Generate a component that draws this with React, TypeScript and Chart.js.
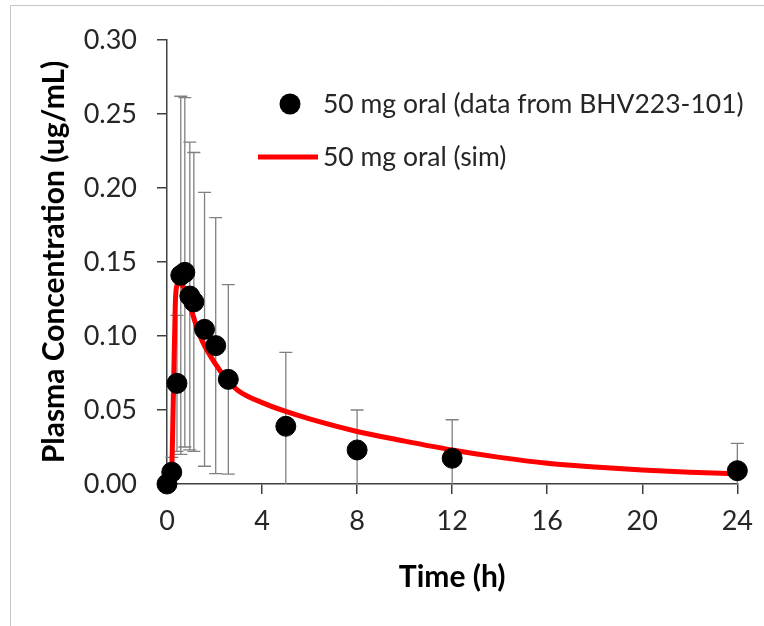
import React, { useEffect, useRef } from "react";
import { Chart, registerables } from "chart.js";

Chart.register(...registerables);

// Observed data (mean ± SD)
const obsTime = [0, 0.2, 0.42, 0.58, 0.75, 0.96, 1.13, 1.58, 2.05, 2.58, 5, 8, 12, 24];
const obsMean = [0, 0.008, 0.068, 0.141, 0.143, 0.127, 0.123, 0.1045, 0.0935, 0.0707, 0.039, 0.023, 0.0174, 0.009];
const obsSD = [0, 0.01, 0.046, 0.121, 0.118, 0.104, 0.101, 0.0925, 0.0865, 0.064, 0.05, 0.027, 0.026, 0.0185];

// Simulated profile
const simTime = [0, 0.1, 0.15, 0.2, 0.25, 0.3, 0.35, 0.4, 0.5, 0.6, 0.75, 1, 1.25, 1.5, 2, 2.5, 3, 4, 5, 6, 8, 10, 12, 14, 16, 18, 20, 22, 24];
const simConc = [0, 0.0005, 0.003, 0.009, 0.045, 0.085, 0.122, 0.133, 0.136, 0.135, 0.131, 0.119, 0.106, 0.096, 0.082, 0.071, 0.063, 0.055, 0.049, 0.044, 0.0355, 0.029, 0.023, 0.018, 0.014, 0.0115, 0.0095, 0.008, 0.0068];

const xTicks = [0, 4, 8, 12, 16, 20, 24];
const yTicks = [0, 0.05, 0.1, 0.15, 0.2, 0.25, 0.3];

const obsLabel = "50 mg oral (data from BHV223-101)";
const simLabel = "50 mg oral (sim)";
const xTitle = "Time (h)";
const yTitle = "Plasma Concentration (ug/mL)";

const FONT = "Lato, 'Open Sans', sans-serif";
const TEXT = "#262626";

const framePlugin = {
  id: "frame",
  beforeDraw(chart: any) {
    const ctx = chart.ctx;
    ctx.save();
    ctx.strokeStyle = "#c6c6c6";
    ctx.lineWidth = 1;
    ctx.beginPath();
    ctx.moveTo(10.5, chart.height);
    ctx.lineTo(10.5, 5.5);
    ctx.lineTo(chart.width, 5.5);
    ctx.stroke();
    ctx.restore();
  },
};

const errorBarPlugin = {
  id: "errorBars",
  beforeDatasetsDraw(chart: any) {
    const ctx = chart.ctx;
    const xs = chart.scales.x;
    const ys = chart.scales.y;
    const cap = 6.5;
    ctx.save();
    ctx.strokeStyle = "#808080";
    ctx.lineWidth = 1.3;
    for (let i = 0; i < obsTime.length; i++) {
      if (!obsSD[i]) continue;
      const x = xs.getPixelForValue(obsTime[i]);
      const hi = obsMean[i] + obsSD[i];
      const loV = obsMean[i] - obsSD[i];
      const lo = Math.max(loV, 0);
      const yT = ys.getPixelForValue(hi);
      const yB = ys.getPixelForValue(lo);
      ctx.beginPath();
      ctx.moveTo(x, yT);
      ctx.lineTo(x, yB);
      ctx.moveTo(x - cap, yT);
      ctx.lineTo(x + cap, yT);
      if (loV > 0) {
        ctx.moveTo(x - cap, yB);
        ctx.lineTo(x + cap, yB);
      }
      ctx.stroke();
    }
    ctx.restore();
  },
};

const legendPlugin = {
  id: "customLegend",
  afterDraw(chart: any) {
    const ctx = chart.ctx;
    const ds = chart.data.datasets;
    ctx.save();
    ctx.font = `26.5px ${FONT}`;
    ctx.textBaseline = "middle";
    ctx.textAlign = "left";
    // item 1: marker
    ctx.beginPath();
    ctx.fillStyle = "#000";
    ctx.arc(290, 104, 10.5, 0, Math.PI * 2);
    ctx.fill();
    ctx.fillStyle = TEXT;
    ctx.fillText(ds[0].label, 323, 104);
    // item 2: line
    ctx.strokeStyle = "#ff0000";
    ctx.lineWidth = 5;
    ctx.beginPath();
    ctx.moveTo(258, 157);
    ctx.lineTo(318, 157);
    ctx.stroke();
    ctx.fillText(ds[1].label, 323, 157);
    ctx.restore();
  },
};

export default function App() {
  const ref = useRef<HTMLCanvasElement | null>(null);
  useEffect(() => {
    document.body.style.margin = "0";
    const canvas = ref.current;
    if (!canvas) return;
    const chart = new Chart(canvas, {
      type: "scatter",
      data: {
        datasets: [
          {
            label: obsLabel,
            data: obsTime.map((t, i) => ({ x: t, y: obsMean[i] })),
            backgroundColor: "#000",
            borderColor: "#000",
            pointRadius: 10,
            pointHoverRadius: 10,
            showLine: false,
            clip: false as any,
            order: 0,
          },
          {
            label: simLabel,
            type: "line" as any,
            data: simTime.map((t, i) => ({ x: t, y: simConc[i] })),
            borderColor: "#ff0000",
            backgroundColor: "#ff0000",
            borderWidth: 5,
            pointRadius: 0,
            showLine: true,
            cubicInterpolationMode: "monotone",
            clip: false as any,
            order: 1,
          } as any,
        ],
      },
      options: {
        responsive: false,
        animation: false,
        events: [],
        layout: { padding: { left: 0, top: 40, right: 24, bottom: 0 } },
        plugins: {
          legend: { display: false },
          tooltip: { enabled: false },
        },
        scales: {
          x: {
            type: "linear",
            min: 0,
            max: 24,
            afterFit: (s: any) => {
              s.height = 142;
            },
            afterBuildTicks: (s: any) => {
              s.ticks = xTicks.map((v) => ({ value: v }));
            },
            grid: {
              drawOnChartArea: false,
              drawTicks: true,
              tickLength: 10,
              color: "#404040",
              lineWidth: 1.5,
            },
            border: { display: true, color: "#404040", width: 1.5 },
            ticks: {
              font: { family: FONT, size: 27 },
              color: TEXT,
              padding: 11,
              maxRotation: 0,
              callback: (v: any) => String(v),
            },
            title: {
              display: true,
              text: xTitle,
              font: { family: FONT, size: 30, weight: "bold", lineHeight: 1 },
              color: "#000",
              padding: { top: 0, bottom: 34 },
            },
          },
          y: {
            type: "linear",
            min: 0,
            max: 0.3,
            afterFit: (s: any) => {
              s.width = 167;
            },
            afterBuildTicks: (s: any) => {
              s.ticks = yTicks.map((v) => ({ value: v }));
            },
            grid: {
              drawOnChartArea: false,
              drawTicks: true,
              tickLength: 10,
              color: "#404040",
              lineWidth: 1.5,
            },
            border: { display: true, color: "#404040", width: 1.5 },
            ticks: {
              font: { family: FONT, size: 27 },
              color: TEXT,
              padding: 20,
              callback: (v: any) => Number(v).toFixed(2),
            },
            title: {
              display: true,
              text: yTitle,
              font: { family: FONT, size: 30, weight: "bold", lineHeight: 1 },
              color: "#000",
              padding: { top: 39, bottom: 0 },
            },
          },
        },
      },
      plugins: [framePlugin, errorBarPlugin, legendPlugin],
    });
    return () => chart.destroy();
  }, []);
  return (
    <div style={{ width: 764, height: 626 }}>
      <canvas ref={ref} width={764} height={626} style={{ display: "block" }} />
    </div>
  );
}
